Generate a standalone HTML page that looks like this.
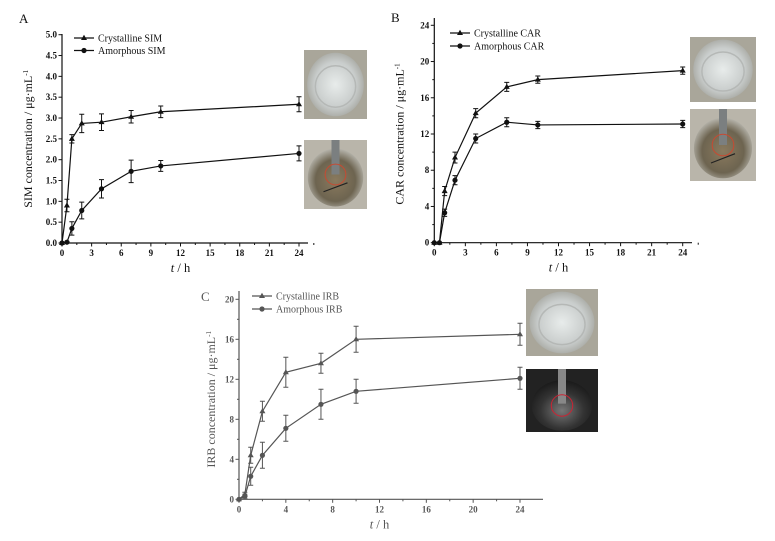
<!DOCTYPE html>
<html><head><meta charset="utf-8">
<style>
html,body{margin:0;padding:0;background:#fff;}
svg{display:block;font-family:"Liberation Serif",serif;}
</style></head>
<body>
<svg id="fig" width="775" height="541" viewBox="0 0 775 541" xmlns="http://www.w3.org/2000/svg">
<defs>
<radialGradient id="gW" cx="50%" cy="50%" r="60%"><stop offset="0" stop-color="#e8eceb"/><stop offset="0.6" stop-color="#c9cdcc"/><stop offset="1" stop-color="#9a9a92"/></radialGradient>
<radialGradient id="gB" cx="50%" cy="55%" r="60%"><stop offset="0" stop-color="#8a7a5e"/><stop offset="0.6" stop-color="#6d6450"/><stop offset="1" stop-color="#c8c8c2"/></radialGradient>
<radialGradient id="gK" cx="50%" cy="60%" r="60%"><stop offset="0" stop-color="#777"/><stop offset="0.6" stop-color="#333"/><stop offset="1" stop-color="#1a1a1a"/></radialGradient>
</defs>
</svg>
<script>
// Panel A data
const timesA = [0, 0.5, 1, 2, 4, 7, 10, 24];
const crystA = [0, 0.9, 2.5, 2.87, 2.9, 3.03, 3.15, 3.33];
const crystAErr = [0, 0.15, 0.1, 0.22, 0.2, 0.15, 0.14, 0.18];
const amorA = [0, 0.02, 0.35, 0.78, 1.3, 1.72, 1.85, 2.15];
const amorAErr = [0, 0.02, 0.16, 0.2, 0.22, 0.27, 0.13, 0.18];
const xTicksA = [0, 3, 6, 9, 12, 15, 18, 21, 24];
const yTicksA = [0, 0.5, 1.0, 1.5, 2.0, 2.5, 3.0, 3.5, 4.0, 4.5, 5.0];
// Panel B data
const timesB = [0, 0.5, 1, 2, 4, 7, 10, 24];
const crystB = [0, 0, 5.7, 9.4, 14.3, 17.2, 18.0, 19.0];
const crystBErr = [0, 0, 0.5, 0.6, 0.5, 0.5, 0.4, 0.4];
const amorB = [0, 0, 3.3, 6.9, 11.5, 13.3, 13.0, 13.1];
const amorBErr = [0, 0, 0.4, 0.5, 0.5, 0.5, 0.4, 0.4];
const xTicksB = [0, 3, 6, 9, 12, 15, 18, 21, 24];
const yTicksB = [0, 4, 8, 12, 16, 20, 24];
// Panel C data
const timesC = [0, 0.5, 1, 2, 4, 7, 10, 24];
const crystC = [0, 0.5, 4.4, 8.8, 12.7, 13.6, 16.0, 16.5];
const crystCErr = [0, 0.2, 0.8, 1.0, 1.5, 1.0, 1.3, 1.1];
const amorC = [0, 0.3, 2.3, 4.4, 7.1, 9.5, 10.8, 12.1];
const amorCErr = [0, 0.2, 0.9, 1.3, 1.3, 1.5, 1.2, 1.1];
const xTicksC = [0, 4, 8, 12, 16, 20, 24];
const yTicksC = [0, 4, 8, 12, 16, 20];

const NS = "http://www.w3.org/2000/svg";
const svg = document.getElementById('fig');
function mk(tag, attrs, parent){
  const e = document.createElementNS(NS, tag);
  for (const k in attrs) e.setAttribute(k, attrs[k]);
  (parent || svg).appendChild(e);
  return e;
}
function txt(s, attrs, parent){ const t = mk('text', attrs, parent); t.textContent = s; return t; }

function marker(g, shape, x, y, col){
  if (shape === 'tri') return mk('polygon', {points:`${x},${y-3.2} ${x-3},${y+2} ${x+3},${y+2}`, fill:col}, g);
  return mk('circle', {cx:x, cy:y, r:2.6, fill:col}, g);
}

function panel(o){
  const g = mk('g', {});
  
  
  const col = o.col;
  const sx = v => o.x0 + (v - 0) / 24 * (o.x24 - o.x0);
  const sy = v => o.y0 - v / o.ymax * (o.y0 - o.ytop);
  const ax = mk('path', {d:`M${o.x0},${o.ytopAxis} L${o.x0},${o.y0} L${o.xend},${o.y0}`, stroke:col, 'stroke-width':1.2, fill:'none'}, g);
  
  
  const xstep = o.xTicks[1] - o.xTicks[0];
  o.xTicks.forEach(v => {
    mk('line', {x1:sx(v), y1:o.y0, x2:sx(v), y2:o.y0+3.5, stroke:col, 'stroke-width':1}, g);
    const t = txt(String(v), {x:sx(v), y:o.y0+13, 'font-size':9, 'text-anchor':'middle', fill:col, 'font-weight':'bold'}, g);
    
    
    if (v + xstep/2 <= 25.5) mk('line', {x1:sx(v+xstep/2), y1:o.y0, x2:sx(v+xstep/2), y2:o.y0+2, stroke:col, 'stroke-width':1}, g);
  });
  const ystep = o.yTicks[1] - o.yTicks[0];
  o.yTicks.forEach((v, i) => {
    mk('line', {x1:o.x0-3.5, y1:sy(v), x2:o.x0, y2:sy(v), stroke:col, 'stroke-width':1}, g);
    const t = txt(o.yfmt(v), {x:o.x0-5, y:sy(v)+3, 'font-size':9, 'text-anchor':'end', fill:col, 'font-weight':'bold'}, g);
    
    
    if (o.yMinor && i < o.yTicks.length - 1) mk('line', {x1:o.x0-2, y1:sy(v+ystep/2), x2:o.x0, y2:sy(v+ystep/2), stroke:col, 'stroke-width':1}, g);
  });
  const xt = mk('text', {x:(o.x0+o.x24)/2, y:o.y0+29, 'font-size':12.5, 'text-anchor':'middle', fill:col}, g);
  xt.innerHTML = '<tspan font-style="italic">t</tspan> / h';
  
  
  const yx = o.x0 - o.ylabOff, yy = (o.y0 + o.ytop)/2;
  const yt = mk('text', {x:yx, y:yy, 'font-size':12, 'text-anchor':'middle', fill:col, transform:`rotate(-90 ${yx} ${yy})`}, g);
  yt.innerHTML = o.ylabel + ' concentration / μg·mL<tspan dy="-4" font-size="7">-1</tspan>';
  
  
  const pl = txt(o.letter, {x:o.lx, y:o.ly, 'font-size':13, fill:col}, g);
  
  
  o.series.forEach(s => {
    const sg = mk('g', {}, g);
    
    
    const pts = o.t.map((tv, i) => `${sx(tv)},${sy(s.v[i])}`).join(' ');
    mk('polyline', {points:pts, fill:'none', stroke:col, 'stroke-width':1.2}, sg);
    o.t.forEach((tv, i) => {
      const e = s.e[i];
      if (e > 0) {
        const x = sx(tv), y1 = sy(s.v[i]-e), y2 = sy(s.v[i]+e);
        const eb = mk('path', {d:`M${x},${y1} L${x},${y2} M${x-2.5},${y1} L${x+2.5},${y1} M${x-2.5},${y2} L${x+2.5},${y2}`, stroke:col, 'stroke-width':1, fill:'none'}, sg);
        
        
      }
      const m = marker(sg, s.shape, sx(tv), sy(s.v[i]), col);
      
      
    });
  });
  o.series.forEach((s, i) => {
    const lg = mk('g', {}, g);
    
    
    const y = o.legY + i * o.legDy;
    mk('line', {x1:o.legX, y1:y, x2:o.legX+20, y2:y, stroke:col, 'stroke-width':1.2}, lg);
    marker(lg, s.shape, o.legX+10, y, col);
    txt(s.label, {x:o.legX+24, y:y+3.5, 'font-size':10, fill:col}, lg);
  });
}

function photo(x, y, w, h, kind, name){
  const g = mk('g', {});
  
  
  const cx = x + w/2, cy = y + h/2;
  if (kind === 'clear') {
    mk('rect', {x, y, width:w, height:h, fill:'#a9a69a'}, g);
    mk('ellipse', {cx, cy, rx:w*0.45, ry:h*0.46, fill:'url(#gW)'}, g);
    mk('ellipse', {cx, cy:cy+2, rx:w*0.32, ry:h*0.3, fill:'none', stroke:'#b5b8b6', 'stroke-width':1.5}, g);
  } else if (kind === 'brown') {
    mk('rect', {x, y, width:w, height:h, fill:'#b9b5aa'}, g);
    mk('ellipse', {cx, cy:cy+3, rx:w*0.44, ry:h*0.42, fill:'url(#gB)'}, g);
    mk('rect', {x:cx-4, y, width:8, height:h*0.5, fill:'#7b7f80'}, g);
    mk('circle', {cx, cy:cy, r:h*0.15, fill:'none', stroke:'#c64a32', 'stroke-width':1}, g);
    mk('line', {x1:cx-12, y1:cy+h*0.25, x2:cx+12, y2:cy+h*0.12, stroke:'#222', 'stroke-width':1.2}, g);
  } else {
    mk('rect', {x, y, width:w, height:h, fill:'#222'}, g);
    mk('ellipse', {cx, cy:cy+5, rx:w*0.42, ry:h*0.4, fill:'url(#gK)'}, g);
    mk('rect', {x:cx-4, y, width:8, height:h*0.55, fill:'#888'}, g);
    mk('circle', {cx, cy:cy+5, r:h*0.17, fill:'none', stroke:'#c23', 'stroke-width':1}, g);
  }
}

panel({name:'panel-a-chart', col:'#111', x0:62, x24:299, xend:308, y0:243, ytop:34.7, ytopAxis:34, ymax:5,
  t:timesA, xTicks:xTicksA, yTicks:yTicksA, yMinor:false, yfmt:v=>v.toFixed(1), ylabel:'SIM', ylabOff:30,
  letter:'A', lx:19, ly:23, legX:74, legY:38, legDy:12.5,
  series:[{key:'series-crystalline-sim', label:'Crystalline SIM', shape:'tri', v:crystA, e:crystAErr},
          {key:'series-amorphous-sim', label:'Amorphous SIM', shape:'dot', v:amorA, e:amorAErr}]});
panel({name:'panel-b-chart', col:'#111', x0:434.3, x24:682.7, xend:692, y0:242.7, ytop:25.3, ytopAxis:18, ymax:24,
  t:timesB, xTicks:xTicksB, yTicks:yTicksB, yMinor:true, yfmt:v=>String(v), ylabel:'CAR', ylabOff:31,
  letter:'B', lx:391, ly:22, legX:450, legY:33, legDy:13,
  series:[{key:'series-crystalline-car', label:'Crystalline CAR', shape:'tri', v:crystB, e:crystBErr},
          {key:'series-amorphous-car', label:'Amorphous CAR', shape:'dot', v:amorB, e:amorBErr}]});
panel({name:'panel-c-chart', col:'#555', x0:239, x24:520, xend:543, y0:499.3, ytop:299.3, ytopAxis:291, ymax:20,
  t:timesC, xTicks:xTicksC, yTicks:yTicksC, yMinor:true, yfmt:v=>String(v), ylabel:'IRB', ylabOff:24,
  letter:'C', lx:201, ly:301, legX:252, legY:296, legDy:13,
  series:[{key:'series-crystalline-irb', label:'Crystalline IRB', shape:'tri', v:crystC, e:crystCErr},
          {key:'series-amorphous-irb', label:'Amorphous IRB', shape:'dot', v:amorC, e:amorCErr}]});

photo(304, 50, 63, 69, 'clear', 'photo-crystalline-sim');
photo(304, 140, 63, 69, 'brown', 'photo-amorphous-sim');
photo(690, 37, 66, 65, 'clear', 'photo-crystalline-car');
photo(690, 109, 66, 72, 'brown', 'photo-amorphous-car');
photo(526, 289, 72, 67, 'clear', 'photo-crystalline-irb');
photo(526, 369, 72, 63, 'dark', 'photo-amorphous-irb');
</script>
</body></html>
